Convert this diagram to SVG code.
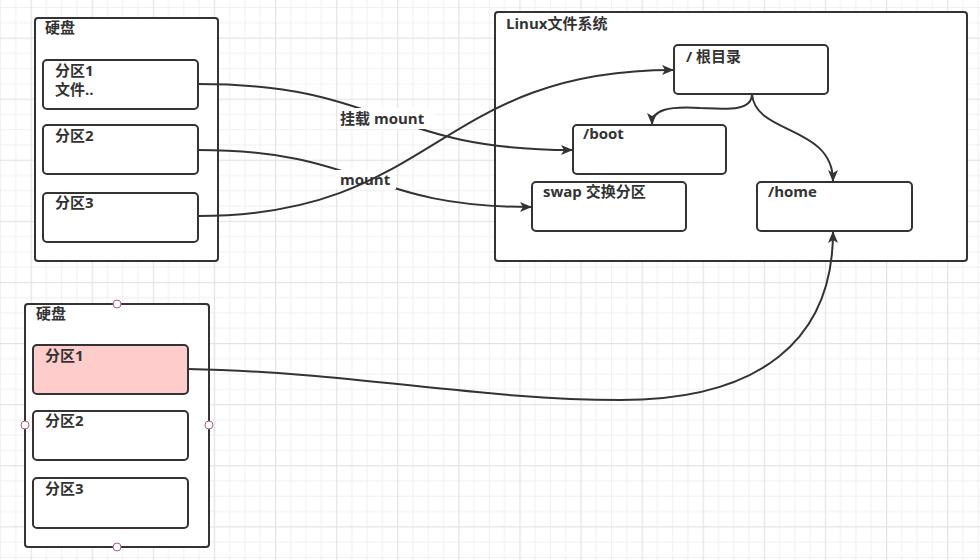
<svg xmlns="http://www.w3.org/2000/svg" width="980" height="560" viewBox="0 0 980 560">
<style>
.box{fill:#ffffff;stroke:#333333;stroke-width:2}
.pink{fill:#ffcccc;stroke:#333333;stroke-width:2}
.t{font-family:"Open Sans","Noto Sans CJK SC",sans-serif;font-size:15px;font-weight:bold;fill:#333333}
.edge{fill:none;stroke:#333333;stroke-width:2}
.pt{fill:#ffffff;stroke:#b06070;stroke-width:1}
</style>
<defs>
<pattern id="grid" patternUnits="userSpaceOnUse" x="30.6" y="37.5" width="61.1" height="61.1">
<rect x="15.275" y="0" width="1" height="61.1" fill="#f0f0f0"/>
<rect x="30.55" y="0" width="1" height="61.1" fill="#f0f0f0"/>
<rect x="45.825" y="0" width="1" height="61.1" fill="#f0f0f0"/>
<rect x="0" y="15.275" width="61.1" height="1" fill="#f0f0f0"/>
<rect x="0" y="30.55" width="61.1" height="1" fill="#f0f0f0"/>
<rect x="0" y="45.825" width="61.1" height="1" fill="#f0f0f0"/>
<rect x="0" y="0" width="1.2" height="61.1" fill="#e3e3e3"/>
<rect x="0" y="0" width="61.1" height="1.2" fill="#e3e3e3"/>
</pattern>
<marker id="arr" markerUnits="userSpaceOnUse" viewBox="0 0 12 10" refX="11" refY="5" markerWidth="12" markerHeight="10" orient="auto">
<path d="M0,0 L12,5 L0,10 L3,5 Z" fill="#333333"/>
</marker>
</defs>
<rect width="980" height="560" fill="#ffffff"/>
<rect width="980" height="560" fill="url(#grid)"/>

<g id="disk1">
<rect class="box" x="35" y="18" width="183" height="243" rx="3"/>
<text class="t" x="45" y="33">硬盘</text>
</g>
<g id="d1p1">
<rect class="box" x="43" y="60" width="155" height="49" rx="4"/>
<text class="t" x="55" y="76">分区1</text>
<text class="t" x="55" y="95">文件..</text>
</g>
<g id="d1p2">
<rect class="box" x="43" y="125" width="155" height="49" rx="4"/>
<text class="t" x="55" y="141">分区2</text>
</g>
<g id="d1p3">
<rect class="box" x="43" y="193" width="155" height="49" rx="4"/>
<text class="t" x="55" y="208">分区3</text>
</g>

<g id="linuxfs">
<rect class="box" x="495" y="12" width="472" height="249" rx="3"/>
<text class="t" x="506" y="29">Linux文件系统</text>
</g>
<g id="root">
<rect class="box" x="674" y="45" width="154" height="49" rx="4"/>
<text class="t" x="686" y="62">/ 根目录</text>
</g>
<g id="boot">
<rect class="box" x="573" y="125" width="153" height="49" rx="4"/>
<text class="t" x="583" y="139">/boot</text>
</g>
<g id="swap">
<rect class="box" x="532" y="182" width="154" height="49" rx="4"/>
<text class="t" x="543" y="197">swap 交换分区</text>
</g>
<g id="home">
<rect class="box" x="757" y="182" width="155" height="49" rx="4"/>
<text class="t" x="768" y="197">/home</text>
</g>

<g id="disk2">
<rect class="box" x="25" y="304" width="184" height="243" rx="3"/>
<text class="t" x="36" y="319">硬盘</text>
<circle class="pt" cx="117" cy="304" r="4"/>
<circle class="pt" cx="117" cy="547" r="4"/>
<circle class="pt" cx="25" cy="425" r="4"/>
<circle class="pt" cx="209" cy="425" r="4"/>
</g>
<g id="d2p1">
<rect class="pink" x="33" y="345" width="155" height="49" rx="4"/>
<text class="t" x="45" y="361">分区1</text>
</g>
<g id="d2p2">
<rect class="box" x="33" y="411" width="155" height="49" rx="4"/>
<text class="t" x="45" y="426">分区2</text>
</g>
<g id="d2p3">
<rect class="box" x="33" y="478" width="155" height="50" rx="4"/>
<text class="t" x="45" y="494">分区3</text>
</g>

<g id="connectors">
<path class="edge" d="M198,84 C385,84 385,150 572,150" marker-end="url(#arr)"/>
<rect x="338" y="108" width="96" height="21" fill="#ffffff"/>
<text class="t" x="340" y="124">挂载 mount</text>
<path class="edge" d="M198,150 C365,150 365,207 531,207" marker-end="url(#arr)"/>
<rect x="336" y="170" width="60" height="19" fill="#ffffff"/>
<text class="t" x="340" y="185">mount</text>
<path class="edge" d="M198,216 C436,216 436,70 673,70" marker-end="url(#arr)"/>
<path class="edge" d="M752,94 C752,112 725,109 700,108 C668,106 652,110 652,124" marker-end="url(#arr)"/>
<path class="edge" d="M752,94 C755,135 833,125 833,181" marker-end="url(#arr)"/>
<path class="edge" d="M188,369 C350,372 480,400 620,400 C760,400 833,340 833,232" marker-end="url(#arr)"/>
</g>
</svg>
